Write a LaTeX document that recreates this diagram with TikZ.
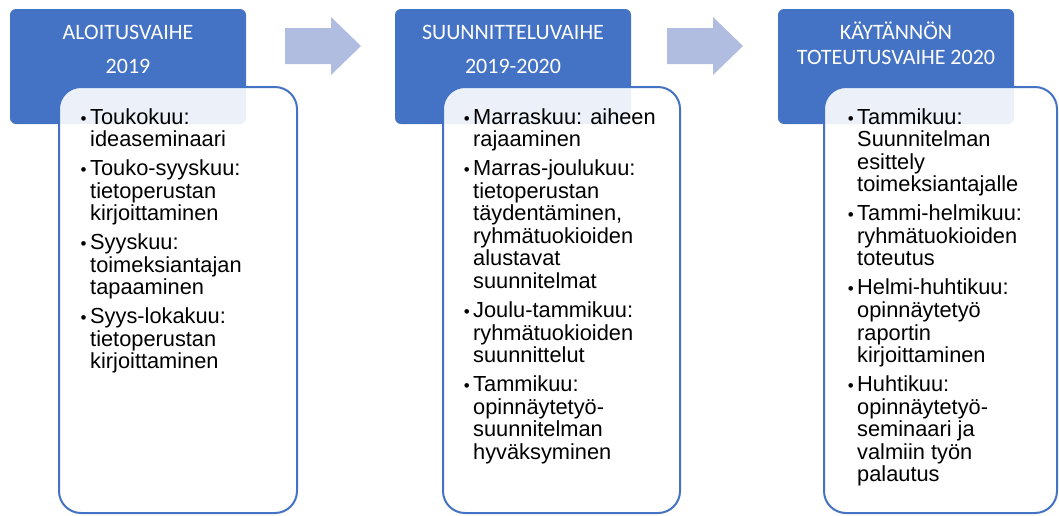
\documentclass[tikz,border=0pt]{standalone}
\usepackage{fontspec}
\setmainfont{Liberation Sans}
\newfontfamily\headfont{Carlito}
\usetikzlibrary{calc}

\definecolor{phaseblue}{RGB}{68,114,196}
\definecolor{arrowblue}{RGB}{176,189,224}

\newcommand{\itm}{\llap{{\fontsize{17}{17}\selectfont\textbullet}\kern3.5pt}}
\newcommand{\gap}[1]{\noalign{\vskip#1}}
\newcommand{\leftlines}[1]{\vtop{\halign{##\hfil\cr#1\crcr}}}
\newcommand{\midlines}[1]{\vtop{\halign{\hfil##\hfil\cr#1\crcr}}}

\tikzset{
  phasehead/.style={fill=phaseblue, rounded corners=6pt, minimum width=236pt, minimum height=115pt, inner sep=0pt, outer sep=0pt},
  phasebox/.style={draw=phaseblue, line width=2pt, fill=white, fill opacity=0.9, rounded corners=22pt, minimum height=426pt, inner sep=0pt, outer sep=0pt},
  headtext/.style={text=white, font=\headfont\fontsize{22}{25}\selectfont, anchor=base, inner sep=0pt},
  itemtext/.style={font=\fontsize{21.8}{22.6}\selectfont, anchor=base west, inner sep=0pt},
}

\begin{document}
\begin{tikzpicture}[x=1pt, y=-1pt]
\useasboundingbox (0,0) rectangle (1059,515);
% arrows between the phases
\foreach \ax in {285,667} {
 \fill[arrowblue] (\ax,28) --++(46,0) --++(0,-11) --++(30,29) --++(-30,29) --++(0,-11) --++(-46,0) -- cycle;
}
% phase headers and boxes
\foreach \n/\hx/\bx/\bw in {1/10/59/238, 2/395/443/237, 3/778/824/233} {
 \node[phasehead, anchor=north west] (h\n) at (\hx,9) {};
 \node[phasebox, minimum width=\bw pt, anchor=north west] (b\n) at (\bx,87) {};
}
\node[headtext] (t1) at ($(h1.north)+(0,30)$) {\midlines{ALOITUSVAIHE\cr\gap{9pt}2019}};
\node[headtext] (t2) at ($(h2.north)+(0,30)$) {\midlines{SUUNNITTELUVAIHE\cr\gap{9pt}2019-2020}};
\node[headtext] (t3) at ($(h3.north)+(0,30)$) {\midlines{KÄYTÄNNÖN\cr TOTEUTUSVAIHE 2020}};
% lists
\node[itemtext] (l1) at ($(b1.north west)+(31,37)$) {\leftlines{%
 \itm Toukokuu:\cr ideaseminaari\cr\gap{6.3pt}
 \itm Touko-syyskuu:\cr tietoperustan\cr kirjoittaminen\cr\gap{6.3pt}
 \itm Syyskuu:\cr toimeksiantajan\cr tapaaminen\cr\gap{6.3pt}
 \itm Syys-lokakuu:\cr tietoperustan\cr kirjoittaminen}};
\node[itemtext] (l2) at ($(b2.north west)+(30,37)$) {\leftlines{%
 \itm Marraskuu: aiheen\cr rajaaminen\cr\gap{6.3pt}
 \itm Marras-joulukuu:\cr tietoperustan\cr täydentäminen,\cr ryhmätuokioiden\cr alustavat\cr suunnitelmat\cr\gap{6.3pt}
 \itm Joulu-tammikuu:\cr ryhmätuokioiden\cr suunnittelut\cr\gap{6.3pt}
 \itm Tammikuu:\cr opinnäytetyö-\cr suunnitelman\cr hyväksyminen}};
\node[itemtext] (l3) at ($(b3.north west)+(33,37)$) {\leftlines{%
 \itm Tammikuu:\cr Suunnitelman\cr esittely\cr toimeksiantajalle\cr\gap{6.3pt}
 \itm Tammi-helmikuu:\cr ryhmätuokioiden\cr toteutus\cr\gap{6.3pt}
 \itm Helmi-huhtikuu:\cr opinnäytetyö\cr raportin\cr kirjoittaminen\cr\gap{6.3pt}
 \itm Huhtikuu:\cr opinnäytetyö-\cr seminaari ja\cr valmiin työn\cr palautus}};
\end{tikzpicture}
\end{document}
